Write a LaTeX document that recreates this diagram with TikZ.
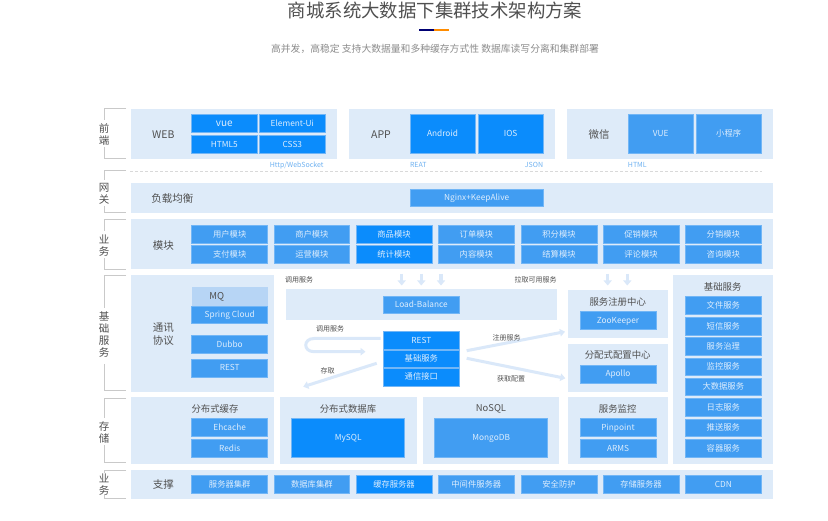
\documentclass[tikz,border=0pt]{standalone}
\usepackage{fontspec}
\setmainfont{Noto Sans CJK SC}
\usetikzlibrary{arrows.meta}
\definecolor{panelc}{HTML}{DEEBF9}
\definecolor{softc}{HTML}{419DF2}
\definecolor{strongc}{HTML}{0B8CFC}
\definecolor{edgec}{HTML}{72B6F6}
\definecolor{mqc}{HTML}{B7D5F5}
\definecolor{arrowc}{HTML}{DAE8F9}
\definecolor{inkc}{HTML}{505050}
\definecolor{boxtext}{HTML}{DDEDFD}
\definecolor{linkc}{HTML}{6FB2F1}
\definecolor{bracketc}{HTML}{C9C9C9}
\tikzset{
  panel/.style={fill=panelc,draw=none,inner sep=0pt},
  soft/.style={fill=softc,draw=edgec,line width=.5pt,inner sep=0pt,text=boxtext,text height=6.6pt,text depth=.8pt,font=\fontsize{8.3}{10}\selectfont},
  strong/.style={fill=strongc,draw=edgec,line width=.5pt,inner sep=0pt,text=boxtext,text height=6.6pt,text depth=.8pt,font=\fontsize{8.3}{10}\selectfont},
  mqbox/.style={fill=mqc,draw=none,inner sep=0pt,text=inkc,text height=7.4pt,text depth=.9pt,font=\fontsize{9.5}{11}\selectfont},
  rowlabel/.style={text=inkc,font=\fontsize{10.5}{12.5}\selectfont,inner sep=0pt,align=center,yshift=-.7pt},
  sidelabel/.style={text=inkc,font=\fontsize{10.5}{12}\selectfont,inner sep=0pt,align=center,yshift=-.5pt},
  smalllabel/.style={text=inkc,font=\fontsize{7}{8}\selectfont,inner sep=0pt,yshift=-.4pt},
  linklabel/.style={text=linkc,font=\fontsize{7}{8}\selectfont,inner sep=0pt,yshift=-.4pt},
  bracketline/.style={draw=bracketc,line width=.8pt},
  flow/.style={draw=arrowc,line width=3pt,-{Triangle[length=5pt,width=7.5pt]}},
  dropflow/.style={draw=arrowc,line width=3.2pt,-{Triangle[length=5pt,width=8pt]}},
}
\newcommand{\bx}[7]{%
  \pgfmathsetmacro{\bxw}{#4-#2}\pgfmathsetmacro{\bxh}{#5-#3}%
  \pgfmathsetmacro{\bxcx}{(#2+#4)/2}\pgfmathsetmacro{\bxcy}{(#3+#5)/2}%
  \node[#6,minimum width=\bxw pt,minimum height=\bxh pt] (#1) at (\bxcx,\bxcy) {#7};}
\newcommand{\brk}[4]{%
  \draw[bracketline] (126,#1) -- (104,#1) -- (104,#3);
  \draw[bracketline] (104,#4) -- (104,#2) -- (126,#2);}
\begin{document}
\begin{tikzpicture}[x=1pt,y=-1pt]
\useasboundingbox (0,0) rectangle (828,521);
\fill[white] (0,0) rectangle (828,521);
% heading
\node[text=inkc,font=\fontsize{18.4}{22}\selectfont,inner sep=0pt] (title) at (435,10.5) {商城系统大数据下集群技术架构方案};
\fill[fill=blue!45!black] (419,29) rectangle (434.3,30.6);
\fill[fill=orange!90!yellow] (434.3,29) rectangle (449,30.6);
\node[text=black!45,font=\fontsize{9.8}{11}\selectfont,inner sep=0pt] (sub) at (435,48.5) {高并发，高稳定 支持大数据量和多种缓存方式性 数据库读写分离和集群部署};
% brackets
\brk{108.7}{158.7}{120}{146.7}
\brk{170.7}{212.7}{180}{206}
\brk{219.3}{269}{231}{258}
\brk{275.3}{390.7}{308}{364}
\brk{398.3}{462.7}{418}{445}
\brk{470}{498.7}{473}{495}
\node[sidelabel] (s1) at (104,134) {前\\端};
\node[sidelabel] (s2) at (104,193.5) {网\\关};
\node[sidelabel] (s3) at (104,245) {业\\务};
\node[sidelabel] (s4) at (104,333.7) {基\\础\\服\\务};
\node[sidelabel] (s5) at (104,432) {存\\储};
\node[sidelabel] (s6) at (104,484.5) {业\\务};
% panels
\bx{pweb}{130.7}{108.7}{336.7}{159}{panel}{}
\bx{papp}{348.7}{108.7}{555}{159}{panel}{}
\bx{pwx}{566.7}{108.7}{772.7}{159}{panel}{}
\bx{pgw}{130.7}{183}{772.7}{213.3}{panel}{}
\bx{pbiz}{130.7}{219.3}{772.7}{269}{panel}{}
\bx{pcomm}{130.7}{275.3}{274}{392}{panel}{}
\bx{plb}{285.7}{289.3}{556.7}{319.7}{panel}{}
\bx{preg}{568.3}{290}{667.7}{338}{panel}{}
\bx{pcfg}{568.3}{344}{667.7}{391.7}{panel}{}
\bx{pmon}{568.3}{397.3}{667.7}{463.7}{panel}{}
\bx{pbase}{673.3}{275.3}{772.7}{463.7}{panel}{}
\bx{pcache}{130.7}{397.3}{274}{463.7}{panel}{}
\bx{pdb}{280}{397.3}{416.7}{463.7}{panel}{}
\bx{pno}{423}{397.3}{559.3}{463.7}{panel}{}
\bx{psup}{130.7}{470}{772.7}{499}{panel}{}
% dashed separator
\coordinate (dashL) at (130,171.3);
\coordinate (dashR) at (761.7,171.3);
\draw[black!15,line width=.5pt,dash pattern=on 3pt off 2pt] (dashL) -- (dashR);
% row labels
\node[rowlabel] (lweb) at (163.3,134) {WEB};
\node[rowlabel] (lapp) at (381,134) {APP};
\node[rowlabel] (lwx) at (599,134) {微信};
\node[rowlabel] (lgw) at (172.3,198) {负载均衡};
\node[rowlabel] (lbiz) at (163.3,244.7) {模块};
\node[rowlabel] (lcomm) at (163.3,333.7) {通讯\\协议};
\node[rowlabel] (lsup) at (163.3,484) {支撑};
% front end
\bx{vue}{191.7}{114.3}{257}{132.3}{strong}{\fontsize{10}{10}\selectfont vue}
\bx{elem}{259.7}{114.3}{325}{132.3}{strong}{Element-Ui}
\bx{html}{191.7}{135.3}{257}{153}{strong}{HTML5}
\bx{css}{259.7}{135.3}{325}{153}{strong}{CSS3}
\bx{andr}{410}{114.3}{475}{153}{strong}{Android}
\bx{ios}{478}{114.3}{543.3}{153}{strong}{IOS}
\bx{wxvue}{628}{114.3}{693.3}{153}{soft}{VUE}
\bx{mini}{696}{114.3}{761.3}{153}{soft}{小程序}
\node[linklabel] (l1) at (296.7,164.7) {Http/WebSocket};
\node[linklabel] (l2) at (418.3,164.7) {REAT};
\node[linklabel] (l3) at (534,164.7) {JSON};
\node[linklabel] (l4) at (637.3,164.7) {HTML};
% gateway
\bx{nginx}{410}{189}{543.3}{206.7}{soft}{Nginx+KeepAlive}
% modules
\bx{m1}{191.7}{225.3}{267.7}{243}{soft}{用户模块}
\bx{m2}{274}{225.3}{349.7}{243}{soft}{商户模块}
\bx{m3}{356}{225.3}{432}{243}{strong}{商品模块}
\bx{m4}{438.3}{225.3}{514.3}{243}{soft}{订单模块}
\bx{m5}{521}{225.3}{597}{243}{soft}{积分模块}
\bx{m6}{603}{225.3}{679}{243}{soft}{促销模块}
\bx{m7}{685.3}{225.3}{761.3}{243}{soft}{分销模块}
\bx{n1}{191.7}{245.7}{267.7}{263.7}{soft}{支付模块}
\bx{n2}{274}{245.7}{349.7}{263.7}{soft}{运营模块}
\bx{n3}{356}{245.7}{432}{263.7}{strong}{统计模块}
\bx{n4}{438.3}{245.7}{514.3}{263.7}{soft}{内容模块}
\bx{n5}{521}{245.7}{597}{263.7}{soft}{结算模块}
\bx{n6}{603}{245.7}{679}{263.7}{soft}{评论模块}
\bx{n7}{685.3}{245.7}{761.3}{263.7}{soft}{咨询模块}
% communication
\bx{mq}{191.7}{287.3}{267.7}{305.7}{mqbox}{\hspace*{-26pt}MQ}
\bx{sc}{191.7}{306}{267.7}{323.7}{soft}{Spring Cloud}
\bx{dubbo}{191.7}{335.3}{267.7}{353}{soft}{Dubbo}
\bx{rest1}{191.7}{359}{267.7}{377}{soft}{REST}
% centre
\bx{lb}{383.3}{296}{459.3}{313.7}{soft}{Load-Balance}
\bx{rest2}{383.3}{331.3}{459.3}{349.7}{strong}{REST}
\bx{basesvc}{383.3}{350}{459.3}{367.7}{strong}{基础服务}
\bx{iface}{383.3}{368}{459.3}{386}{strong}{通信接口}
\node[smalllabel] (t1) at (299,279.3) {调用服务};
\node[smalllabel] (t2) at (535.7,279.3) {拉取可用服务};
\node[smalllabel] (t3) at (330,328.3) {调用服务};
\node[smalllabel] (t4) at (327.7,370.3) {存取};
% arrows
\foreach \nm/\xx in {a/401.7,b/421.3,c/441,d/607.7,e/627.3}{
  \coordinate (dn\nm s) at (\xx,274);
  \coordinate (dn\nm e) at (\xx,285.5);
  \draw[dropflow] (dn\nm s) -- (dn\nm e);
}
\coordinate (loopS) at (380.7,338.5);
\coordinate (loopE) at (365.5,351.7);
\draw[flow] (loopS) -- (314,338.5) .. controls (303,338.5) and (303,351.7) .. (314,351.7) -- (loopE);
\coordinate (storeS) at (376.7,363.3);
\coordinate (storeE) at (303.3,386.7);
\draw[flow] (storeS) -- (storeE);
\coordinate (regS) at (466.7,350.7);
\coordinate (regE) at (565,331.7);
\draw[flow] (regS) -- (regE);
\coordinate (cfgS) at (466.7,358.3);
\coordinate (cfgE) at (565.3,378.3);
\draw[flow] (cfgS) -- (cfgE);
\node[smalllabel] (t5) at (506.7,337.7) {注册服务};
\node[smalllabel] (t6) at (511,378.3) {获取配置};
% registry etc
\node[rowlabel,font=\fontsize{9.4}{11}\selectfont] (h1) at (617.7,301) {服务注册中心};
\bx{zk}{580}{311.3}{656}{329}{soft}{ZooKeeper}
\node[rowlabel,font=\fontsize{9.4}{11}\selectfont] (h2) at (617.7,354.7) {分配式配置中心};
\bx{apollo}{580}{365}{656}{383}{soft}{Apollo}
\node[rowlabel,font=\fontsize{9.4}{11}\selectfont] (h3) at (617.7,408.3) {服务监控};
\bx{pin}{580}{418.7}{656}{436.3}{soft}{Pinpoint}
\bx{arms}{580}{439.3}{656}{457}{soft}{ARMS}
% storage
\node[rowlabel,font=\fontsize{9.4}{11}\selectfont] (h4) at (215,408.3) {分布式缓存};
\bx{eh}{191.7}{418.7}{267.7}{436.3}{soft}{Ehcache}
\bx{redis}{191.7}{439.3}{267.7}{457}{soft}{Redis}
\node[rowlabel,font=\fontsize{9.4}{11}\selectfont] (h5) at (348,408.3) {分布式数据库};
\bx{mysql}{291.7}{418.7}{404.7}{457}{strong}{MySQL}
\node[rowlabel,font=\fontsize{9.4}{11}\selectfont] (h6) at (491,408.3) {NoSQL};
\bx{mongo}{434.7}{418.7}{547.7}{457}{soft}{MongoDB}
% base services
\node[rowlabel,font=\fontsize{9.4}{11}\selectfont] (h7) at (722.7,286) {基础服务};
\bx{b1}{685.3}{296.7}{761.3}{314.3}{soft}{文件服务}
\bx{b2}{685.3}{317.3}{761.3}{335}{soft}{短信服务}
\bx{b3}{685.3}{337.7}{761.3}{355.3}{soft}{服务治理}
\bx{b4}{685.3}{358}{761.3}{375.7}{soft}{监控服务}
\bx{b5}{685.3}{378.3}{761.3}{395.7}{soft}{大数据服务}
\bx{b6}{685.3}{398.7}{761.3}{416.3}{soft}{日志服务}
\bx{b7}{685.3}{419}{761.3}{436.3}{soft}{推送服务}
\bx{b8}{685.3}{439.3}{761.3}{457}{soft}{容器服务}
% support
\bx{u1}{191.7}{475.3}{267.7}{493}{soft}{服务器集群}
\bx{u2}{274}{475.3}{349.7}{493}{soft}{数据库集群}
\bx{u3}{356}{475.3}{432}{493}{strong}{缓存服务器}
\bx{u4}{438.3}{475.3}{514.3}{493}{soft}{中间件服务器}
\bx{u5}{521}{475.3}{597}{493}{soft}{安全防护}
\bx{u6}{603}{475.3}{679}{493}{soft}{存储服务器}
\bx{u7}{685.3}{475.3}{761.3}{493}{soft}{CDN}
\end{tikzpicture}
\end{document}
